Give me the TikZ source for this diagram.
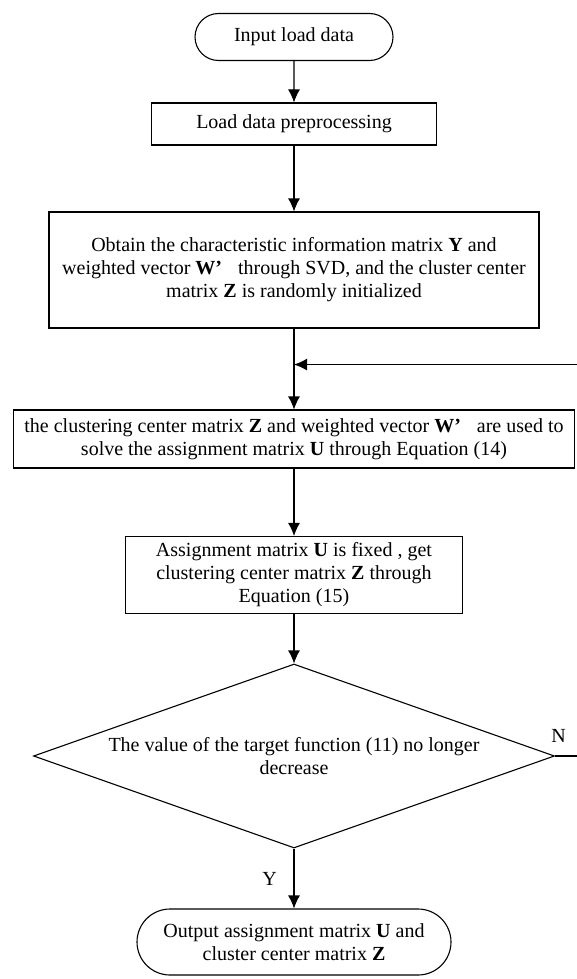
\documentclass[tikz,border=0pt]{standalone}
\usepackage{fontspec}
\setmainfont{Liberation Serif}
\usetikzlibrary{arrows.meta,positioning,shapes.geometric,shapes.misc}

\begin{document}
\begin{tikzpicture}[>={Latex[length=6.5pt,width=6pt]},line width=0.55pt,node distance=2cm,on grid,
    every node/.style={font=\fontsize{10}{11.5}\selectfont,align=center},
    terminal/.style={draw,rounded rectangle,inner sep=2pt},
    block/.style={draw,rectangle,inner sep=2pt},
    decision/.style={draw,diamond,aspect=2.83,inner sep=0pt}]
    \useasboundingbox (0,0) rectangle (288.5pt,-489.5pt);
    \node[terminal,minimum width=103pt,minimum height=23.5pt] (start) at (147pt,-18.5pt) {Input load data};
    \node[block,minimum width=142.5pt,minimum height=21pt] [below=43.5pt of start] (prep) {Load data preprocessing};
    \node[block,minimum width=245pt,minimum height=58pt] [below=73pt of prep] (svd)
        {Obtain the characteristic information matrix \textbf{Y} and\\
         weighted vector \textbf{W'}\hspace{0.8em}through SVD, and the cluster center\\
         matrix \textbf{Z} is randomly initialized};
    \node[block,minimum width=280.5pt,minimum height=29pt] [below=84.5pt of svd] (assign)
        {the clustering center matrix \textbf{Z} and weighted vector \textbf{W'}\hspace{0.8em}are used to\\
         solve the assignment matrix \textbf{U} through Equation (14)};
    \node[block,minimum width=168.5pt,minimum height=38.5pt] [below=68pt of assign] (fixz)
        {Assignment matrix \textbf{U} is fixed , get\\
         clustering center matrix \textbf{Z} through\\
         Equation (15)};
    \node[decision,minimum width=260.5pt,minimum height=92pt] [below=90.5pt of fixz] (decide)
        {The value of the target function (11) no longer\\ decrease};
    \node[terminal,minimum width=161pt,minimum height=33pt] [below=93pt of decide] (out)
        {Output assignment matrix \textbf{U} and\\ cluster center matrix \textbf{Z}};
    \coordinate [below=18pt of svd.south] (join);
    \coordinate (edge) at (289pt,0);

    \path[->]
    (start) edge (prep)
    (prep) edge (svd)
    (svd) edge (assign)
    (assign) edge (fixz)
    (fixz) edge (decide)
    (decide) edge node[left=5pt] {Y} (out);
    \draw[->] (decide.east) -- node[pos=0.15,above=3pt] {N} (decide.east -| edge) |- (join);
\end{tikzpicture}
\end{document}
